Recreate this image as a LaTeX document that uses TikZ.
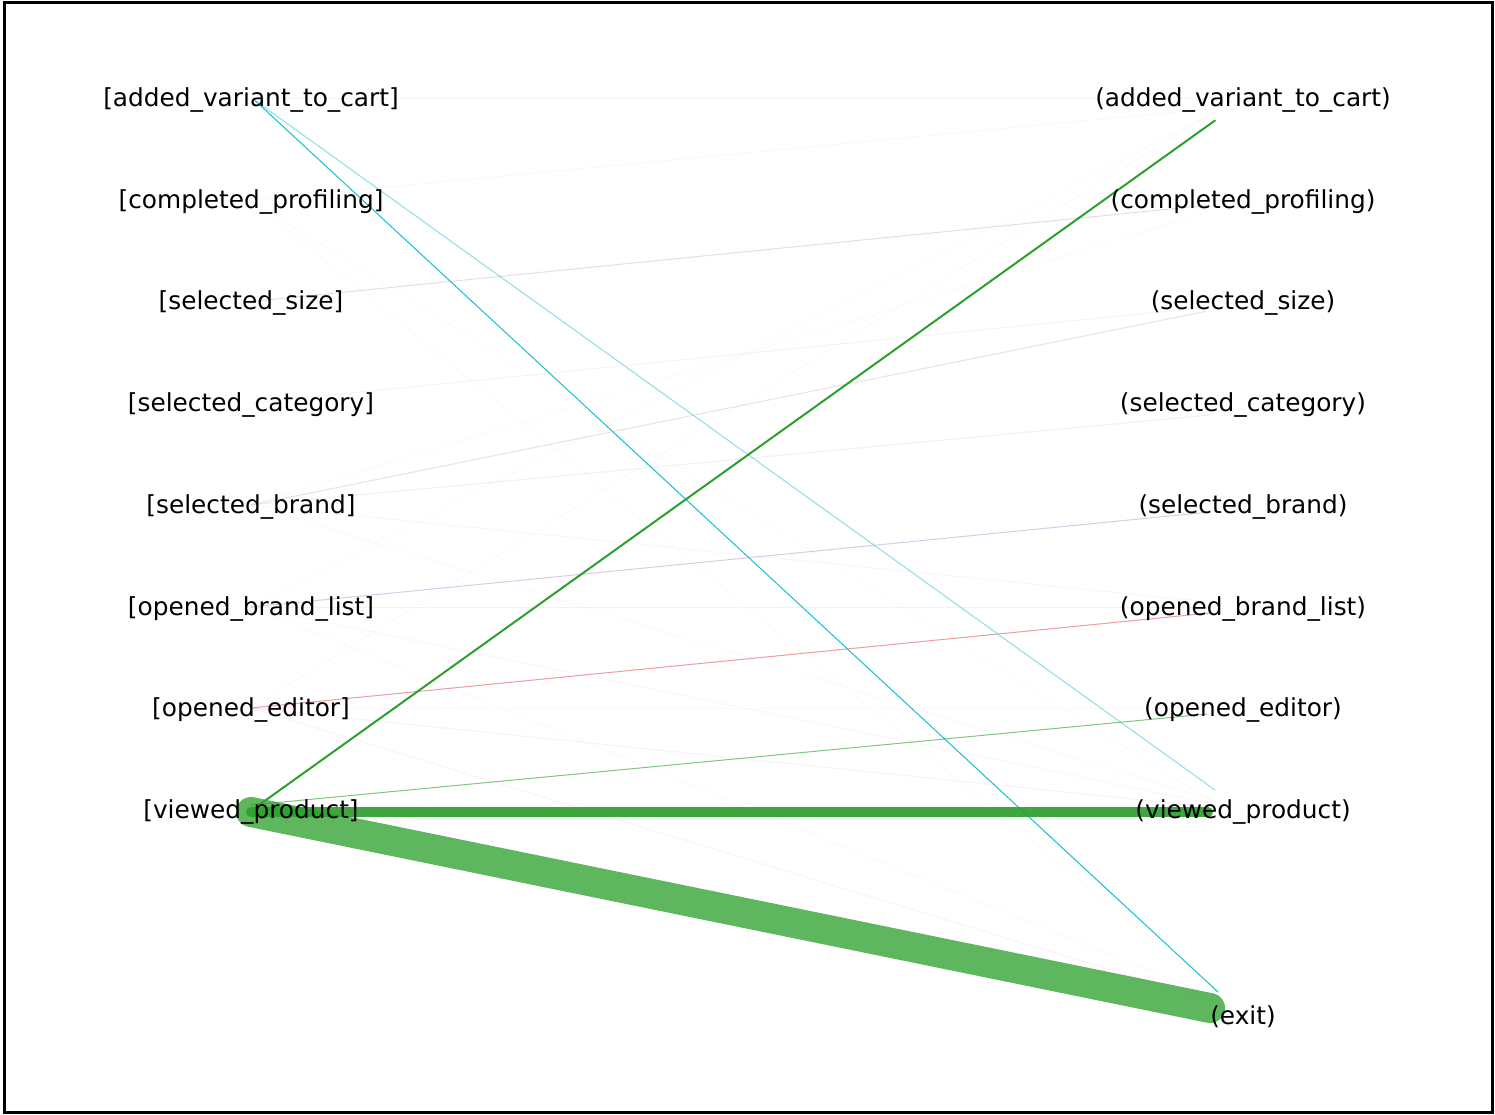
\documentclass[tikz,border=0pt]{standalone}
\usepackage{fontspec}
\setmainfont{DejaVu Sans}
\usetikzlibrary{backgrounds}
\definecolor{tabgreen}{HTML}{2CA02C}
\definecolor{tabcyan}{HTML}{17BECF}
\definecolor{tabred}{HTML}{D62728}
\definecolor{tabpurple}{HTML}{9467BD}
\definecolor{tabpink}{HTML}{E377C2}
\definecolor{tabbrown}{HTML}{8C564B}
\definecolor{tabolive}{HTML}{BCBD22}
\begin{document}
\begin{tikzpicture}[x=1pt,y=-1pt,
  lbl/.style={font=\fontsize{24.8}{29}\selectfont,inner sep=0pt},
  flow/.style={line cap=round,line width=1}]
\useasboundingbox (0,0) rectangle (1495,1115);
\draw[line width=3] (4,3) rectangle (1492,1112);
\node[lbl] (from1) at (251,100.5) {[added\_variant\_to\_cart]};
\node[lbl] (from2) at (251,202) {[completed\_profiling]};
\node[lbl] (from3) at (251,303.5) {[selected\_size]};
\node[lbl] (from4) at (251,405) {[selected\_category]};
\node[lbl] (from5) at (251,507) {[selected\_brand]};
\node[lbl] (from6) at (251,609) {[opened\_brand\_list]};
\node[lbl] (from7) at (251,710) {[opened\_editor]};
\node[lbl] (from8) at (251,812) {[viewed\_product]};
\node[lbl] (to1) at (1243,100.5) {(added\_variant\_to\_cart)};
\node[lbl] (to2) at (1243,202) {(completed\_profiling)};
\node[lbl] (to3) at (1243,303.5) {(selected\_size)};
\node[lbl] (to4) at (1243,405) {(selected\_category)};
\node[lbl] (to5) at (1243,507) {(selected\_brand)};
\node[lbl] (to6) at (1243,609) {(opened\_brand\_list)};
\node[lbl] (to7) at (1243,710) {(opened\_editor)};
\node[lbl] (to8) at (1243,812) {(viewed\_product)};
\node[lbl] (exit) at (1243,1017) {(exit)};
\begin{pgfonlayer}{background}
% faint flows
\draw[flow,tabcyan,draw opacity=0.08] ([shift={(0,-2)}]from1.center) -- ([shift={(-30,-2)}]to1.center);
\draw[flow,tabolive,draw opacity=0.07] ([shift={(0,-2)}]from2.center) -- ([shift={(-30,8)}]to1.center);
\draw[flow,tabolive,draw opacity=0.06] ([shift={(0,-2)}]from2.center) -- ([shift={(-30,-10)}]to8.center);
\draw[flow,tabolive,draw opacity=0.06] ([shift={(0,-2)}]from2.center) -- ([shift={(-26,-24)}]exit.center);
\draw[flow,tabbrown,draw opacity=0.2] ([shift={(0,-2)}]from3.center) -- ([shift={(-33,3)}]to2.center);
\draw[flow,tabbrown,draw opacity=0.08] ([shift={(0,-2)}]from4.center) -- ([shift={(-38,4)}]to3.center);
\draw[flow,tabbrown,draw opacity=0.18] ([shift={(0,-2)}]from5.center) -- ([shift={(-38,8)}]to3.center);
\draw[flow,tabpurple,draw opacity=0.12] ([shift={(0,-2)}]from5.center) -- ([shift={(-33,10)}]to4.center);
\draw[flow,tabpink,draw opacity=0.08] ([shift={(0,-2)}]from5.center) -- ([shift={(-33,-7)}]to6.center);
\draw[flow,tabpink,draw opacity=0.06] ([shift={(0,-2)}]from5.center) -- ([shift={(-30,-12)}]to8.center);
\draw[flow,tabpink,draw opacity=0.05] ([shift={(0,-2)}]from5.center) -- ([shift={(-35,10)}]to2.center);
\draw[flow,tabpurple,draw opacity=0.35] ([shift={(0,-2)}]from6.center) -- ([shift={(-33,5)}]to5.center);
\draw[flow,tabpurple,draw opacity=0.1] ([shift={(0,-2)}]from6.center) -- ([shift={(-33,-2)}]to6.center);
\draw[flow,tabpink,draw opacity=0.08] ([shift={(0,-2)}]from6.center) -- ([shift={(-30,-8)}]to8.center);
\draw[flow,tabpink,draw opacity=0.06] ([shift={(0,-2)}]from6.center) -- ([shift={(-28,-20)}]exit.center);
\draw[flow,tabpink,draw opacity=0.05] ([shift={(0,-2)}]from6.center) -- ([shift={(-32,14)}]to1.center);
\draw[flow,tabred,draw opacity=0.45] ([shift={(0,-2)}]from7.center) -- ([shift={(-33,4)}]to6.center);
\draw[flow,tabpink,draw opacity=0.06] ([shift={(0,-2)}]from7.center) -- ([shift={(-33,-2)}]to7.center);
\draw[flow,tabpink,draw opacity=0.12] ([shift={(0,-2)}]from7.center) -- ([shift={(-33,-5)}]to8.center);
\draw[flow,tabpink,draw opacity=0.1] ([shift={(0,-2)}]from7.center) -- ([shift={(-30,-16)}]exit.center);
\draw[flow,tabpink,draw opacity=0.06] ([shift={(0,-2)}]from7.center) -- ([shift={(-30,12)}]to1.center);
% strong flows
\draw[flow,tabcyan,draw opacity=0.5] ([shift={(4,0)}]from1.center) -- ([shift={(-28,-22)}]to8.center);
\draw[flow,tabcyan] ([shift={(4,0)}]from1.center) -- ([shift={(-25,-25)}]exit.center);
\draw[flow,tabgreen,draw opacity=0.6] ([shift={(0,-7)}]from8.center) -- ([shift={(-36,4)}]to7.center);
\draw[flow,tabgreen,line width=2] ([shift={(8,-7)}]from8.center) -- ([shift={(-28,20)}]to1.center);
\draw[flow,tabgreen,draw opacity=0.92,line width=10] (from8.center) -- ([shift={(-35,0)}]to8.center);
\draw[flow,tabgreen,draw opacity=0.76,line width=30] (from8.center) -- ([shift={(-33,-9)}]exit.center);
\end{pgfonlayer}
\end{tikzpicture}
\end{document}
